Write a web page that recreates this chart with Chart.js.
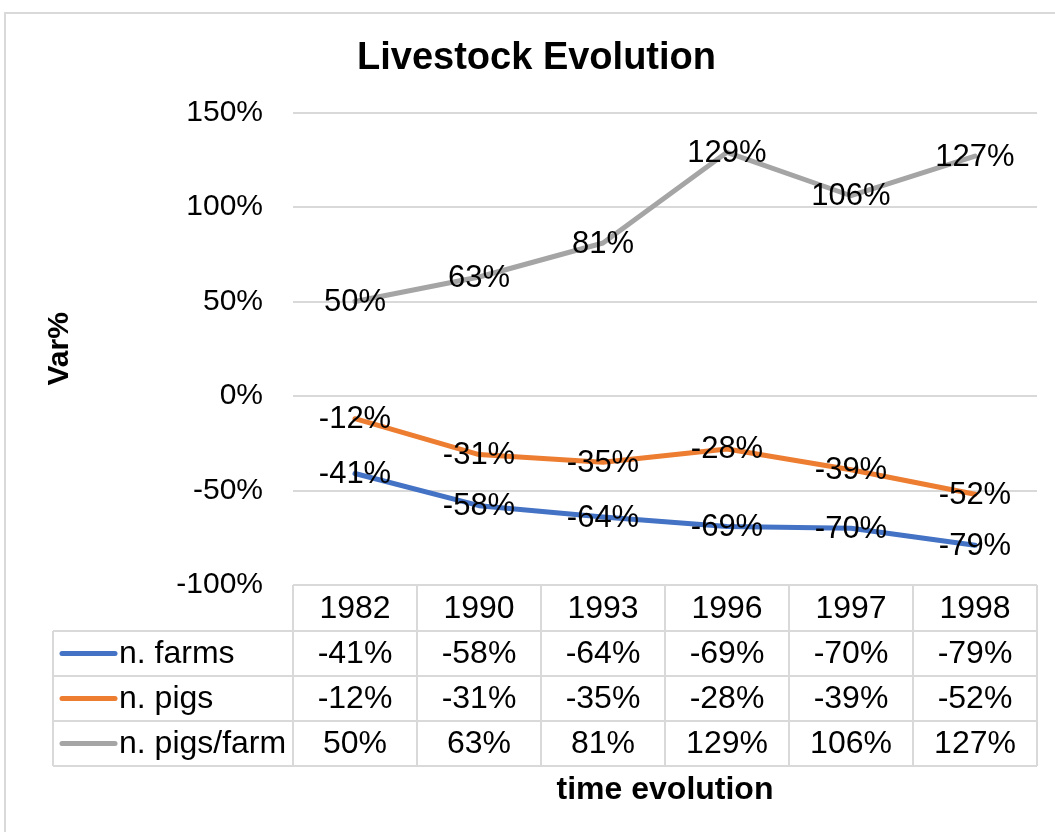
<!DOCTYPE html>
<html>
<head>
<meta charset="utf-8">
<script src="https://cdn.jsdelivr.net/npm/chart.js@4/dist/chart.umd.min.js"></script>
<style>
  html, body { margin: 0; padding: 0; background: #ffffff; }
  #wrap { width: 1055px; height: 832px; position: relative; }
</style>
</head>
<body>
<div id="wrap"><canvas id="c" width="1055" height="832"></canvas></div>
<script>
// Years shown along the horizontal axis and in the table header
const years = ['1982', '1990', '1993', '1996', '1997', '1998'];

// Percentage change per series
const farms = [-41, -58, -64, -69, -70, -79];
const pigs = [-12, -31, -35, -28, -39, -52];
const pigsPerFarm = [50, 63, 81, 129, 106, 127];

const seriesNames = ['n. farms', 'n. pigs', 'n. pigs/farm'];

// Vertical axis range and step
const yMin = -100;
const yMax = 150;
const yStep = 50;

const FONT = "'Liberation Sans', Arial, Helvetica, sans-serif";
const GRID = '#d9d9d9';
const COLORS = ['#4472C4', '#ED7D31', '#A5A5A5'];

const pct = v => v + '%';

// Outer frame of the chart
const framePlugin = {
  id: 'frame',
  beforeDraw(chart) {
    const ctx = chart.ctx;
    ctx.save();
    ctx.fillStyle = '#ffffff';
    ctx.fillRect(0, 0, chart.width, chart.height);
    ctx.strokeStyle = GRID;
    ctx.lineWidth = 2;
    ctx.strokeRect(5, 13, chart.width + 20, chart.height + 20);
    ctx.restore();
  }
};

// Value labels centred on each point
const valueLabels = {
  id: 'valueLabels',
  afterDatasetsDraw(chart) {
    const ctx = chart.ctx;
    ctx.save();
    ctx.font = '31px ' + FONT;
    ctx.fillStyle = '#000';
    ctx.textAlign = 'center';
    ctx.textBaseline = 'middle';
    chart.data.datasets.forEach((ds, i) => {
      const meta = chart.getDatasetMeta(i);
      meta.data.forEach((pt, j) => {
        ctx.fillText(pct(ds.data[j]), pt.x, pt.y + 1);
      });
    });
    ctx.restore();
  }
};

// Data table under the plot, aligned to the category bands
const dataTable = {
  id: 'dataTable',
  afterDraw(chart) {
    const ctx = chart.ctx;
    const xs = chart.scales.x;
    const area = chart.chartArea;
    const n = years.length;
    const band = (area.right - area.left) / n;
    const top = area.bottom;
    const rowH = [46, 45, 45, 45];
    const legendLeft = 53;
    const rows = [top];
    rowH.forEach(h => rows.push(rows[rows.length - 1] + h));

    ctx.save();
    ctx.strokeStyle = GRID;
    ctx.lineWidth = 2;
    ctx.beginPath();
    // horizontal lines
    ctx.moveTo(area.left, rows[0]); ctx.lineTo(area.right, rows[0]);
    for (let r = 1; r < rows.length; r++) {
      ctx.moveTo(legendLeft, rows[r]); ctx.lineTo(area.right, rows[r]);
    }
    // vertical lines across the value columns
    for (let c = 0; c <= n; c++) {
      const x = area.left + c * band;
      ctx.moveTo(x, rows[0]); ctx.lineTo(x, rows[rows.length - 1]);
    }
    // left edge of the legend column
    ctx.moveTo(legendLeft, rows[1]); ctx.lineTo(legendLeft, rows[rows.length - 1]);
    ctx.stroke();

    ctx.font = '32px ' + FONT;
    ctx.fillStyle = '#000';
    ctx.textBaseline = 'middle';
    ctx.textAlign = 'center';
    years.forEach((y, i) => {
      ctx.fillText(y, xs.getPixelForValue(i), (rows[0] + rows[1]) / 2 + 1);
    });
    chart.data.datasets.forEach((ds, s) => {
      const cy = (rows[s + 1] + rows[s + 2]) / 2 + 1;
      ctx.textAlign = 'center';
      ds.data.forEach((v, i) => {
        ctx.fillText(pct(v), xs.getPixelForValue(i), cy);
      });
      // legend key
      ctx.strokeStyle = ds.borderColor;
      ctx.lineWidth = 5;
      ctx.lineCap = 'round';
      ctx.beginPath();
      ctx.moveTo(62, cy - 1); ctx.lineTo(115, cy - 1);
      ctx.stroke();
      ctx.textAlign = 'left';
      ctx.fillText(seriesNames[s], 119, cy);
    });

    // horizontal axis title
    ctx.font = 'bold 32px ' + FONT;
    ctx.textAlign = 'center';
    ctx.fillText('time evolution', (area.left + area.right) / 2, 790);
    ctx.restore();
  }
};

const makeSet = (label, data, color) => ({
  label, data,
  borderColor: color,
  backgroundColor: color,
  borderWidth: 5,
  borderCapStyle: 'round',
  borderJoinStyle: 'round',
  pointRadius: 0,
  pointHoverRadius: 0,
  tension: 0,
  fill: false
});

new Chart(document.getElementById('c'), {
  type: 'line',
  data: {
    labels: years,
    datasets: [
      makeSet(seriesNames[0], farms, COLORS[0]),
      makeSet(seriesNames[1], pigs, COLORS[1]),
      makeSet(seriesNames[2], pigsPerFarm, COLORS[2])
    ]
  },
  options: {
    responsive: false,
    animation: false,
    events: [],
    layout: { padding: { top: 0, left: 36, right: 18, bottom: 247 } },
    plugins: {
      legend: { display: false },
      tooltip: { enabled: false },
      title: {
        display: true,
        text: 'Livestock Evolution',
        color: '#000',
        font: { family: FONT, size: 38, weight: 'bold' },
        padding: { top: 36, bottom: 31 }
      }
    },
    scales: {
      x: {
        type: 'category',
        display: false,
        offset: true
      },
      y: {
        min: yMin,
        max: yMax,
        border: { display: false },
        grid: { color: GRID, lineWidth: 2, drawTicks: false },
        ticks: {
          stepSize: yStep,
          padding: 30,
          color: '#000',
          font: { family: FONT, size: 30 },
          callback: v => pct(v)
        },
        title: {
          display: true,
          text: 'Var%',
          color: '#000',
          font: { family: FONT, size: 30, weight: 'bold' },
          padding: { top: 6, bottom: 0 }
        },
        afterFit(scale) { scale.width = 257; }
      }
    }
  },
  plugins: [framePlugin, valueLabels, dataTable]
});
</script>
</body>
</html>
